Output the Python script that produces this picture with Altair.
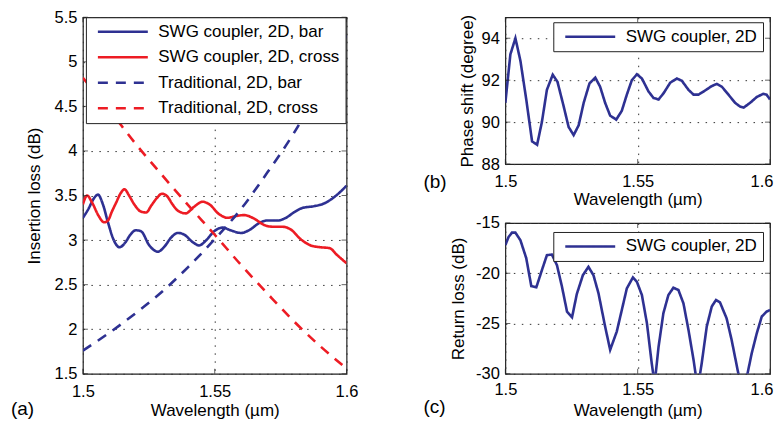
import altair as alt
import pandas as pd

BLUE = "#2e3192"
RED = "#ed1c24"
FONT = "Liberation Sans"
FRAME = "#222222"

# ---------------- Panel (a): insertion loss ----------------
series_a = ["SWG coupler, 2D, bar", "SWG coupler, 2D, cross",
            "Traditional, 2D, bar", "Traditional, 2D, cross"]

swg_bar_wl = [1.5000, 1.5021, 1.5040, 1.5057, 1.5076, 1.5095, 1.5117, 1.5139, 1.5160,
              1.5180, 1.5200, 1.5220, 1.5252, 1.5284, 1.5310, 1.5335, 1.5360, 1.5385,
              1.5415, 1.5441, 1.5465, 1.5498, 1.5530, 1.5560, 1.5600, 1.5635, 1.5668,
              1.5700, 1.5740, 1.5770, 1.5800, 1.5832, 1.5876, 1.5914, 1.5952, 1.6000]
swg_bar_il = [3.25, 3.35, 3.46, 3.51, 3.40, 3.20, 3.00, 2.92, 2.97,
              3.06, 3.11, 3.10, 2.94, 2.87, 2.93, 3.03, 3.08, 3.06,
              2.98, 2.94, 2.99, 3.10, 3.14, 3.11, 3.08, 3.12, 3.19,
              3.22, 3.22, 3.25, 3.31, 3.36, 3.38, 3.41, 3.48, 3.61]

swg_cross_wl = [1.5000, 1.5016, 1.5035, 1.5060, 1.5080, 1.5095, 1.5110, 1.5126, 1.5142,
                1.5158, 1.5175, 1.5195, 1.5220, 1.5240, 1.5260, 1.5280, 1.5300, 1.5320,
                1.5340, 1.5360, 1.5390, 1.5420, 1.5454, 1.5480, 1.5517, 1.5549, 1.5580,
                1.5612, 1.5650, 1.5687, 1.5719, 1.5755, 1.5788, 1.5826, 1.5864, 1.5900,
                1.5935, 1.5965, 1.6000]
swg_cross_il = [3.40, 3.50, 3.42, 3.27, 3.20, 3.22, 3.32, 3.42, 3.52,
                3.57, 3.50, 3.40, 3.32, 3.31, 3.39, 3.47, 3.52, 3.49,
                3.40, 3.33, 3.30, 3.37, 3.43, 3.40, 3.29, 3.25, 3.27,
                3.28, 3.24, 3.17, 3.15, 3.15, 3.12, 3.01, 2.94, 2.92,
                2.91, 2.83, 2.74]

trad_wl = [1.50, 1.51, 1.52, 1.53, 1.54, 1.55, 1.56, 1.57, 1.58, 1.59, 1.60]
trad_bar_il = [1.76, 1.96, 2.18, 2.42, 2.70, 3.01, 3.35, 3.76, 4.20, 4.72, 5.30]
trad_cross_il = [4.82, 4.46, 4.08, 3.73, 3.39, 3.06, 2.72, 2.40, 2.09, 1.81, 1.56]

# ---------------- Panel (b): phase shift ----------------
series_bc = ["SWG coupler, 2D"]
phase_wl = [1.5000, 1.5019, 1.5038, 1.5057, 1.5079, 1.5101, 1.5120, 1.5138, 1.5157,
            1.5179, 1.5197, 1.5220, 1.5239, 1.5258, 1.5277, 1.5296, 1.5318, 1.5340,
            1.5358, 1.5377, 1.5396, 1.5419, 1.5440, 1.5459, 1.5478, 1.5497, 1.5516,
            1.5541, 1.5560, 1.5579, 1.5598, 1.5623, 1.5648, 1.5667, 1.5692, 1.5711,
            1.5730, 1.5755, 1.5780, 1.5799, 1.5818, 1.5843, 1.5868, 1.5887, 1.5900,
            1.5925, 1.5950, 1.5975, 1.5987, 1.6000]
phase_deg = [90.92, 93.23, 94.00, 92.92, 91.08, 89.08, 88.92, 90.00, 91.54,
             92.26, 91.92, 90.77, 89.77, 89.38, 89.85, 90.92, 91.85, 92.12,
             91.69, 90.92, 90.31, 90.12, 90.54, 91.31, 92.00, 92.28, 92.08,
             91.46, 91.15, 91.08, 91.38, 91.88, 92.08, 91.97, 91.54, 91.31,
             91.31, 91.51, 91.72, 91.82, 91.69, 91.31, 90.92, 90.74, 90.69,
             90.92, 91.20, 91.35, 91.31, 91.08]

# ---------------- Panel (c): return loss ----------------
rl_wl = [1.5000, 1.5012, 1.5025, 1.5038, 1.5057, 1.5079, 1.5098, 1.5117, 1.5138,
         1.5157, 1.5176, 1.5195, 1.5214, 1.5233, 1.5252, 1.5270, 1.5293, 1.5314,
         1.5333, 1.5352, 1.5377, 1.5396, 1.5421, 1.5440, 1.5459, 1.5482, 1.5497,
         1.5516, 1.5535, 1.5553, 1.5564, 1.5579, 1.5597, 1.5616, 1.5635, 1.5654,
         1.5673, 1.5692, 1.5711, 1.5727, 1.5742, 1.5761, 1.5780, 1.5796, 1.5811,
         1.5836, 1.5855, 1.5880, 1.5903, 1.5931, 1.5950, 1.5969, 1.5987, 1.6000]
rl_db = [-17.20, -16.40, -15.96, -15.96, -16.72, -18.50, -21.28, -21.40, -19.70,
         -18.20, -18.14, -19.20, -21.34, -23.82, -24.38, -22.07, -20.19, -19.36,
         -20.20, -22.00, -25.30, -27.62, -25.80, -23.66, -21.51, -20.42, -20.85,
         -22.17, -24.98, -28.94, -31.00, -27.30, -23.99, -22.17, -21.44, -21.67,
         -23.00, -25.64, -28.60, -31.50, -28.94, -25.30, -23.30, -22.66, -22.90,
         -24.48, -26.63, -29.93, -31.50, -27.95, -25.97, -24.30, -23.82, -23.65]

x_ticks = [1.5, 1.55, 1.6]
ya_ticks = [1.5, 2, 2.5, 3, 3.5, 4, 4.5, 5, 5.5]
yb_ticks = [88, 90, 92, 94]
yc_ticks = [-30, -25, -20, -15]


def long_df(pairs):
    rows = []
    for name, xs, ys in pairs:
        for i, (x, y) in enumerate(zip(xs, ys)):
            rows.append({"wl": x, "v": y, "s": name, "i": i})
    return pd.DataFrame(rows)


def legend(x, y):
    return alt.Legend(
        title=None, orient="none", legendX=x, legendY=y,
        symbolType="stroke", symbolSize=2500, symbolStrokeWidth=2.5,
        symbolOffset=4.5, labelOffset=9, labelFont=FONT, labelFontSize=17,
        labelColor="black", labelLimit=400, padding=6, rowPadding=7.5,
        clipHeight=17,
        strokeColor=FRAME, fillColor="white", cornerRadius=0,
    )


def panel(df, names, colors, dashes, ydom, yticks, w, h, leg_xy, label, label_xy,
          ytitle, ytitle_pad, xlabel_pad, xtitle_pad, interp, pull_last):
    xs = alt.Scale(domain=[1.5, 1.6], nice=False, zero=False)
    ys = alt.Scale(domain=ydom, nice=False, zero=False)
    lab = "'' + datum.value"
    extra = {}
    if pull_last:
        extra = dict(
            labelAlign={"condition": {"test": "datum.value > 1.59", "value": "right"},
                        "value": "center"},
            labelOffset={"condition": {"test": "datum.value > 1.59", "value": 3},
                         "value": 0},
        )
    xax = alt.Axis(values=x_ticks, labelExpr=lab, title="Wavelength (µm)", grid=True,
                   labelFlush=False, labelPadding=xlabel_pad, titlePadding=xtitle_pad,
                   **extra)
    yax = alt.Axis(values=yticks, labelExpr=lab, title=ytitle, grid=True,
                   labelFlush=False, labelPadding=6, titlePadding=ytitle_pad)
    main = alt.Chart(df).mark_line(strokeWidth=2.6, clip=True,
                                   interpolate=interp).encode(
        x=alt.X("wl:Q", scale=xs, axis=xax),
        y=alt.Y("v:Q", scale=ys, axis=yax),
        color=alt.Color("s:N", scale=alt.Scale(domain=names, range=colors),
                        sort=names, legend=legend(*leg_xy)),
        strokeDash=alt.StrokeDash("s:N", scale=alt.Scale(domain=names, range=dashes),
                                  sort=names, legend=legend(*leg_xy)),
        order="i:Q",
    )
    L = 5
    xt = pd.DataFrame({"wl": x_ticks})
    yt = pd.DataFrame({"v": yticks})
    layers = [main]
    for yy in [L / 2, h - L / 2]:
        layers.append(alt.Chart(xt).mark_tick(orient="vertical", size=L, thickness=1,
                                              color=FRAME).encode(
            x=alt.X("wl:Q", scale=xs, axis=xax), y=alt.value(yy)))
    for xx in [L / 2, w - L / 2]:
        layers.append(alt.Chart(yt).mark_tick(orient="horizontal", size=L, thickness=1,
                                              color=FRAME).encode(
            y=alt.Y("v:Q", scale=ys, axis=yax), x=alt.value(xx)))
    layers.append(alt.Chart(pd.DataFrame({"t": [label]})).mark_text(
        align="left", baseline="middle", font=FONT, fontSize=19, color="black").encode(
        x=alt.value(label_xy[0]), y=alt.value(label_xy[1]), text="t:N"))
    return alt.layer(*layers).properties(width=w, height=h)


df_a = long_df([(series_a[0], swg_bar_wl, swg_bar_il),
                (series_a[1], swg_cross_wl, swg_cross_il),
                (series_a[2], trad_wl, trad_bar_il),
                (series_a[3], trad_wl, trad_cross_il)])
df_b = long_df([(series_bc[0], phase_wl, phase_deg)])
df_c = long_df([(series_bc[0], rl_wl, rl_db)])

solid = [1, 0]
dash = [10, 8]

pa = panel(df_a, series_a, [BLUE, RED, BLUE, RED], [solid, solid, dash, dash],
           [1.5, 5.5], ya_ticks, 264, 357, (3, 0), "(a)", (-72, 392),
           "Insertion loss (dB)", 11, 10, 2, "monotone", False)
pb = panel(df_b, series_bc, [BLUE], [solid], [88, 95], yb_ticks, 265, 147,
           (48, 5), "(b)", (-82, 165), "Phase shift (degree)", 5, 9, 2, "linear", True)
pc = panel(df_c, series_bc, [BLUE], [solid], [-30, -15], yc_ticks, 265, 151,
           (48, 9), "(c)", (-82, 184), "Return loss (dB)", 8, 8, 4, "linear", True)

right = alt.vconcat(pb, pc, spacing=59, bounds="flush").resolve_scale(
    color="independent", strokeDash="independent")
chart = alt.hconcat(pa, right, spacing=159, bounds="flush").resolve_scale(
    color="independent", strokeDash="independent"
).properties(
    padding={"left": 2, "top": 0, "right": 0, "bottom": 0}
).configure_view(stroke=FRAME, strokeWidth=1.2).configure_axis(
    labelFont=FONT, labelFontSize=16.5, labelColor="black",
    titleFont=FONT, titleFontSize=17, titleFontWeight="normal", titleColor="black",
    ticks=False, domain=False, gridColor="#333333", gridDash=[1.5, 6.5], gridOpacity=1,
    gridWidth=1,
).configure_legend(labelFont=FONT)

chart.save("out.html", embed_options={"renderer": "svg", "actions": False})
